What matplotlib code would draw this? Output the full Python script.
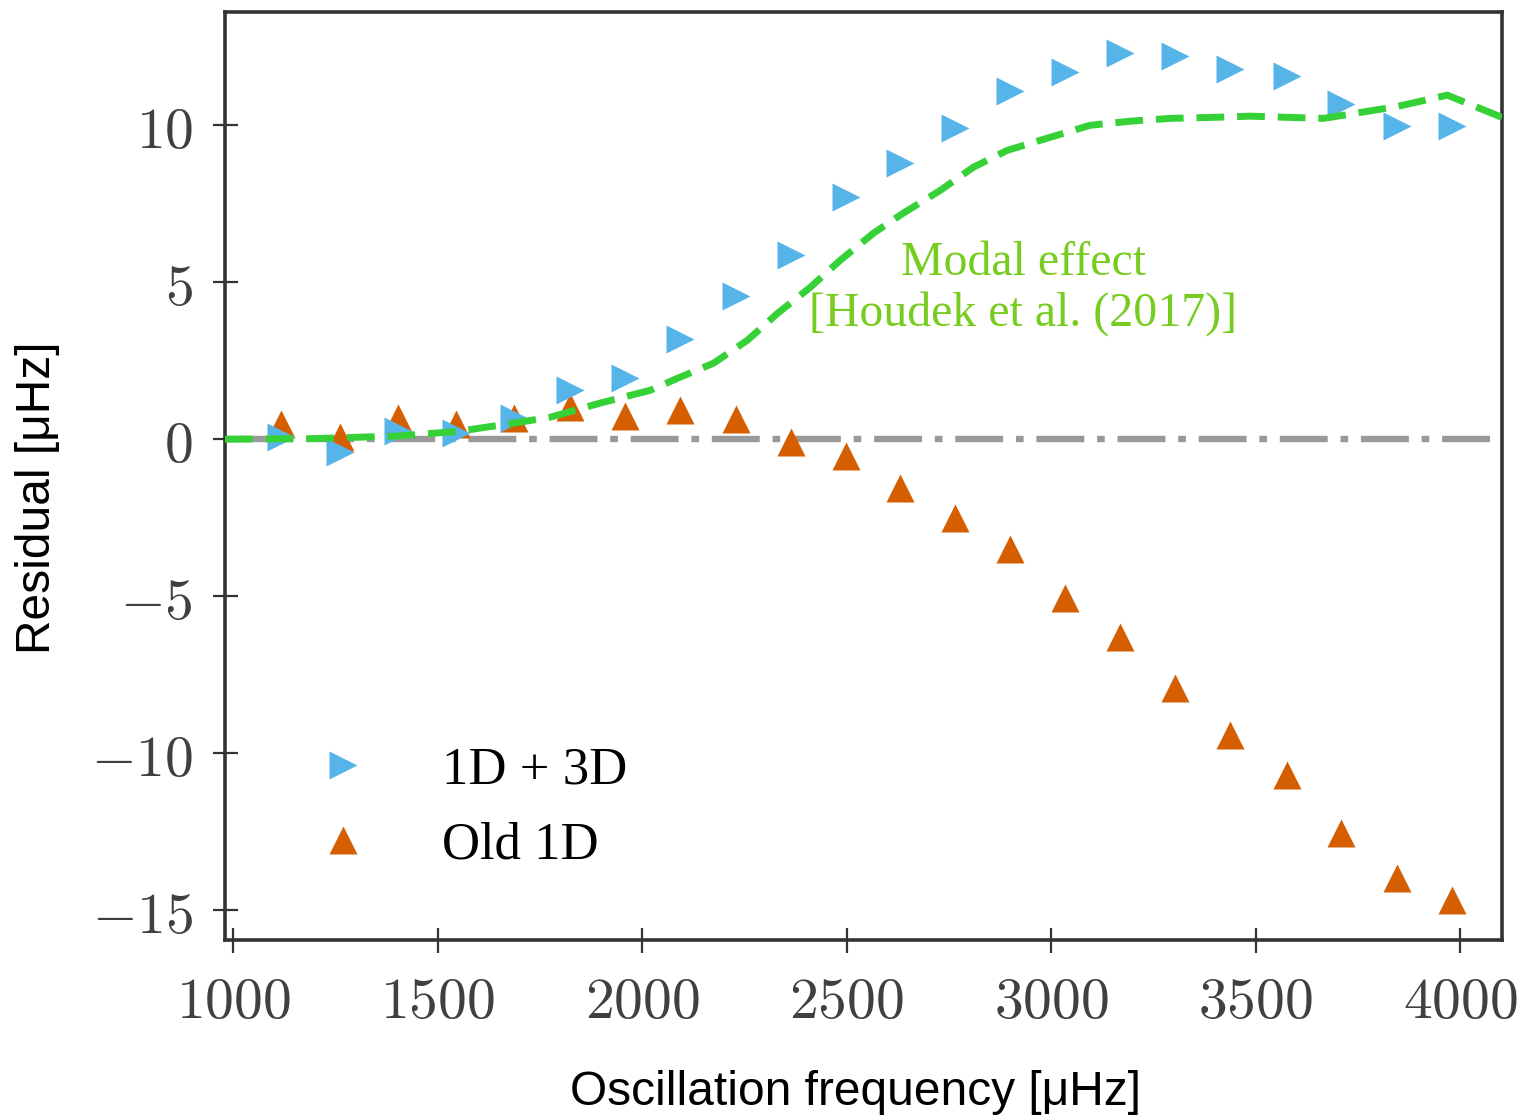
import matplotlib.pyplot as plt
from matplotlib.lines import Line2D

plt.rcParams['mathtext.fontset'] = 'cm'

# mode frequencies (muHz) and residuals (muHz)
freq = [1117, 1262, 1403, 1545, 1687, 1824, 1958, 2093, 2230, 2364, 2499,
        2631, 2765, 2900, 3034, 3169, 3303, 3438, 3575, 3709, 3846, 3980]
resid_1d3d = [0.06, -0.40, 0.25, 0.20, 0.67, 1.56, 1.94, 3.20, 4.55, 5.86, 7.70,
              8.80, 9.90, 11.10, 11.70, 12.30, 12.20, 11.80, 11.56, 10.67, 9.97, 9.97]
resid_old1d = [0.48, 0.06, 0.67, 0.48, 0.67, 1.02, 0.73, 0.92, 0.64, -0.10, -0.54,
               -1.56, -2.50, -3.50, -5.06, -6.30, -7.93, -9.43, -10.70, -12.55, -13.98, -14.68]

# modal effect curve, Houdek et al. (2017)
modal_freq = [980, 1200, 1400, 1550, 1700, 1775, 1897, 2020, 2086, 2174, 2257,
              2330, 2411, 2484, 2565, 2638, 2729, 2809, 2892, 2998, 3095, 3193,
              3291, 3389, 3487, 3584, 3665, 3714, 3846, 3968, 4102]
modal_resid = [0.0, 0.02, 0.10, 0.25, 0.54, 0.70, 1.15, 1.56, 1.94, 2.42, 3.15,
               4.00, 4.84, 5.70, 6.56, 7.20, 7.93, 8.66, 9.20, 9.62, 10.00, 10.13,
               10.22, 10.25, 10.29, 10.25, 10.22, 10.32, 10.60, 10.96, 10.25]

x_ticks = [1000, 1500, 2000, 2500, 3000, 3500, 4000]
y_ticks = [-15, -10, -5, 0, 5, 10]

blue = '#56B4E9'
orange = '#D55E00'
green = '#36D136'
text_green = '#76CC1F'

fig = plt.figure(figsize=(15.25, 11.15), dpi=100)
ax = fig.add_axes([0.1475, 0.157, 0.8375, 0.832])

ax.axhline(0, color='#999999', lw=4.6, dashes=(7.5, 2.0, 1.2, 2.0), zorder=1)
ax.plot(freq, resid_old1d, ls='none', marker='^', ms=19.5, color=orange, mec='none', zorder=3)
ax.plot(freq, resid_1d3d, ls='none', marker='>', ms=19.5, color=blue, mec='none', zorder=4)
ax.plot(modal_freq, modal_resid, color=green, lw=5.0, dashes=(4.0, 1.85), zorder=5)

ax.text(2931, 4.8, 'Modal effect\n[Houdek et al. (2017)]', color=text_green,
        fontsize=34.5, family='Liberation Serif', ha='center', va='center',
        linespacing=1.2)

ax.set_xlim(980, 4102)
ax.set_ylim(-15.95, 13.6)
ax.set_xticks(x_ticks)
ax.set_xticklabels([f'${v}$' for v in x_ticks])
ax.set_yticks(y_ticks)
ax.set_yticklabels([f'${v}$' for v in y_ticks])
ax.tick_params(direction='inout', length=18, width=1.6, color='#333333',
               labelsize=41.5, labelcolor='#404040')
ax.tick_params(axis='y', pad=14)
ax.tick_params(axis='x', pad=15)
for s in ax.spines.values():
    s.set_linewidth(2.6)
    s.set_color('#333333')

ax.set_xlabel('Oscillation frequency [μHz]', fontsize=34.5, family='Liberation Sans')
ax.set_ylabel('Residual [μHz]', fontsize=34.5, family='Liberation Sans')
ax.xaxis.set_label_coords(0.494, -0.140)
ax.yaxis.set_label_coords(-0.129, 0.477)

handles = [
    Line2D([], [], ls='none', marker='>', ms=19.5, color=blue, mec='none'),
    Line2D([], [], ls='none', marker='^', ms=19.5, color=orange, mec='none'),
]
leg = fig.legend(handles, ['1D + 3D', 'Old 1D'], loc='upper left',
                 bbox_to_anchor=(0.190, 0.3305), frameon=False, numpoints=1,
                 handlelength=2.0, handletextpad=0.89, labelspacing=0.52,
                 borderpad=0, borderaxespad=0,
                 prop={'family': 'Liberation Serif', 'size': 38})

fig.savefig('out.png', dpi=100)
